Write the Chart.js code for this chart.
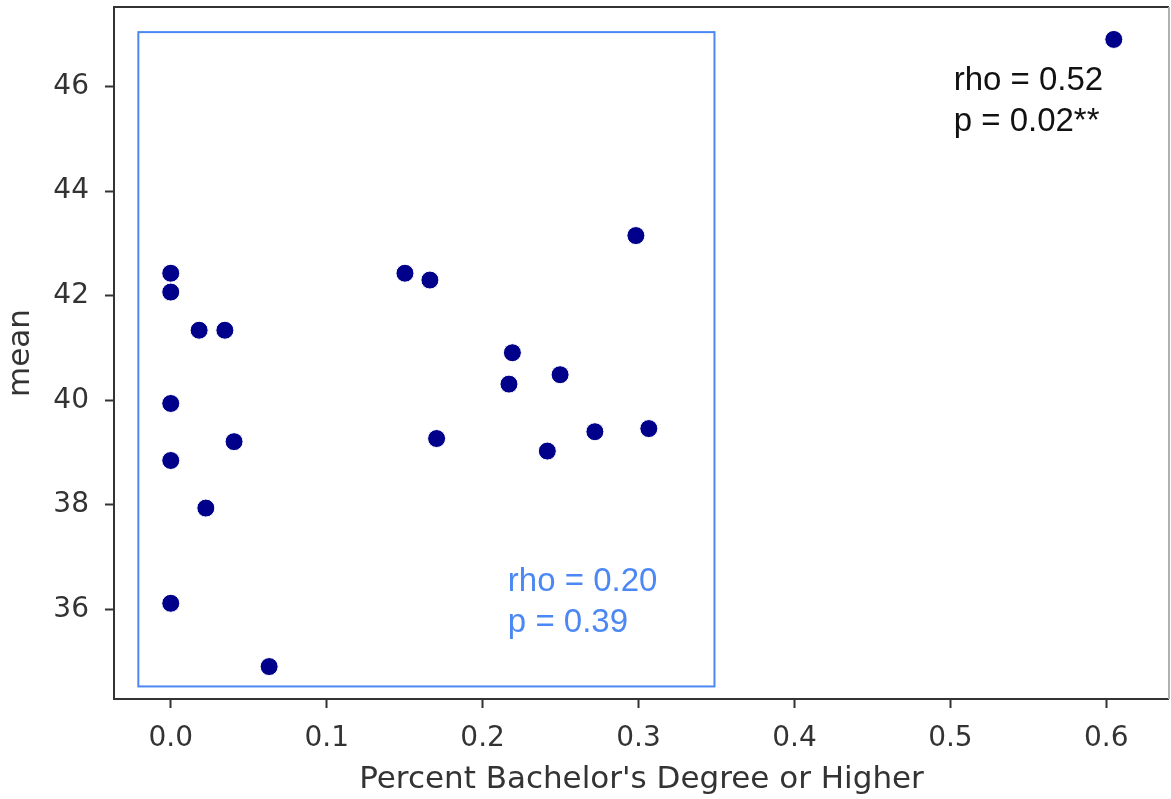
<!DOCTYPE html>
<html>
<head>
<meta charset="utf-8">
<script src="https://cdn.jsdelivr.net/npm/chart.js@4/dist/chart.umd.min.js"></script>
<style>
  html, body { margin: 0; padding: 0; background: #fff; }
  #wrap { width: 1171px; height: 799px; }
</style>
</head>
<body>
<div id="wrap"><canvas id="scatter" width="1171" height="799"></canvas></div>
<script>
// share of adults with a bachelor's degree vs. mean score, one point per area
const pctBachelor = [0.6048, 0.0, 0.0, 0.0, 0.0, 0.0, 0.0182, 0.0347, 0.0406, 0.0225, 0.0631,
  0.1502, 0.1662, 0.1705, 0.2191, 0.2169, 0.2497, 0.2415, 0.2720, 0.2983, 0.3066];
const meanScore = [46.90, 42.43, 42.07, 39.94, 38.85, 36.12, 41.34, 41.34, 39.21, 37.94, 34.91,
  42.43, 42.30, 39.27, 40.91, 40.31, 40.49, 39.03, 39.40, 43.15, 39.46];

const xTicks = [0.0, 0.1, 0.2, 0.3, 0.4, 0.5, 0.6];
const yTicks = [36, 38, 40, 42, 44, 46];
const xRange = [-0.0364, 0.6402];
const yRange = [34.29, 47.52];

// subset without the outlier: box around it plus its correlation
const subsetBox = [-0.0208, 0.3487, 34.53, 47.04];
const subsetStats = ['rho = 0.20', 'p = 0.39'];
const subsetTextAt = [0.2162, 35.58];
// correlation over all points
const allStats = ['rho = 0.52', 'p = 0.02**'];
const allTextAt = [0.5021, 45.15];

const AXIS_GREY = '#333333';
const BOX_BLUE = '#4c88f3';

Chart.defaults.font.family = "'DejaVu Sans', sans-serif";
Chart.defaults.color = AXIS_GREY;

// multi-line stats label; `at` is the baseline of the last line
function drawStats(ctx, chart, lines, at, color) {
  const x = chart.scales.x.getPixelForValue(at[0]);
  const y = chart.scales.y.getPixelForValue(at[1]);
  ctx.save();
  ctx.font = "33px 'Liberation Sans', Arial, sans-serif";
  ctx.fillStyle = color;
  ctx.textAlign = 'left';
  ctx.textBaseline = 'alphabetic';
  const lh = 40.5;
  lines.forEach((t, i) => {
    ctx.fillText(t, x, y - (lines.length - 1 - i) * lh);
  });
  ctx.restore();
}

const overlay = {
  id: 'overlay',
  beforeDatasetsDraw(chart) {
    const { ctx, scales: { x, y } } = chart;
    const l = x.getPixelForValue(subsetBox[0]);
    const r = x.getPixelForValue(subsetBox[1]);
    const b = y.getPixelForValue(subsetBox[2]);
    const t = y.getPixelForValue(subsetBox[3]);
    ctx.save();
    ctx.strokeStyle = BOX_BLUE;
    ctx.lineWidth = 2;
    ctx.strokeRect(l, t, r - l, b - t);
    ctx.restore();
  },
  afterDraw(chart) {
    const { ctx, chartArea: a } = chart;
    drawStats(ctx, chart, subsetStats, subsetTextAt, BOX_BLUE);
    drawStats(ctx, chart, allStats, allTextAt, '#111111');
    // axes frame
    ctx.save();
    ctx.lineWidth = 2;
    ctx.strokeStyle = AXIS_GREY;
    ctx.beginPath();
    ctx.moveTo(a.right, a.top);
    ctx.lineTo(a.left, a.top);
    ctx.lineTo(a.left, a.bottom);
    ctx.lineTo(a.right, a.bottom);
    ctx.stroke();
    ctx.strokeStyle = '#b0b0b0';
    ctx.beginPath();
    ctx.moveTo(a.right, a.top);
    ctx.lineTo(a.right, a.bottom);
    ctx.stroke();
    ctx.restore();
  }
};

new Chart(document.getElementById('scatter'), {
  type: 'scatter',
  data: {
    datasets: [{
      label: 'mean',
      data: pctBachelor.map((v, i) => ({ x: v, y: meanScore[i] })),
      backgroundColor: '#00008b',
      borderColor: '#ffffff',
      borderWidth: 1,
      pointRadius: 9,
      pointHoverRadius: 9
    }]
  },
  options: {
    responsive: false,
    animation: false,
    layout: { autoPadding: false, padding: { top: 7, right: 2, left: 0, bottom: 0 } },
    plugins: {
      legend: { display: false },
      tooltip: { enabled: false }
    },
    scales: {
      x: {
        type: 'linear',
        min: xRange[0],
        max: xRange[1],
        afterBuildTicks: s => { s.ticks = xTicks.map(v => ({ value: v })); },
        afterFit: s => { s.height = 100; s.paddingLeft = 0; s.paddingRight = 0; },
        grid: { drawOnChartArea: false, drawTicks: true, tickLength: 9, tickWidth: 2, tickColor: AXIS_GREY },
        border: { display: false },
        ticks: {
          font: { size: 28 },
          color: AXIS_GREY,
          padding: 14,
          maxRotation: 0,
          callback: v => v.toFixed(1)
        },
        title: {
          display: true,
          text: "Percent Bachelor's Degree or Higher",
          font: { size: 31 },
          color: AXIS_GREY,
          padding: { top: 0, bottom: 0 }
        }
      },
      y: {
        type: 'linear',
        min: yRange[0],
        max: yRange[1],
        afterBuildTicks: s => { s.ticks = yTicks.map(v => ({ value: v })); },
        afterFit: s => { s.width = 114; s.paddingTop = 0; s.paddingBottom = 0; },
        grid: { drawOnChartArea: false, drawTicks: true, tickLength: 9, tickWidth: 2, tickColor: AXIS_GREY },
        border: { display: false },
        ticks: {
          font: { size: 28 },
          color: AXIS_GREY,
          padding: 16,
          callback: v => v.toFixed(0)
        },
        title: {
          display: true,
          text: 'mean',
          font: { size: 31 },
          color: AXIS_GREY,
          padding: { top: 2, bottom: 0 }
        }
      }
    }
  },
  plugins: [overlay]
});
</script>
</body>
</html>
